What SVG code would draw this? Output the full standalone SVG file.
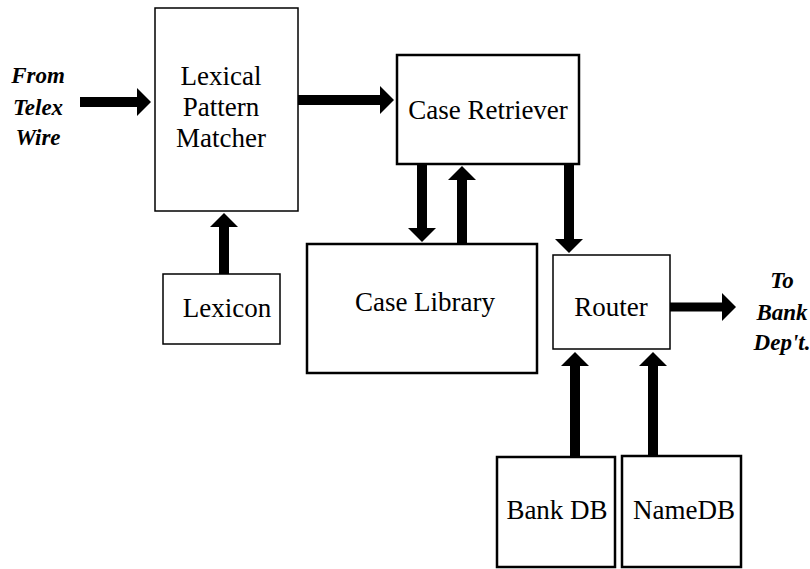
<svg xmlns="http://www.w3.org/2000/svg" width="810" height="569" viewBox="0 0 810 569">
  <style>
    .box { fill: #ffffff; stroke: #000000; }
    .thin { stroke-width: 1.5; }
    .thick { stroke-width: 2.5; }
    .label { font-family: "Liberation Serif", "Times New Roman", serif; font-size: 27px; fill: #000000; text-anchor: middle; }
    .note { font-family: "Liberation Serif", "Times New Roman", serif; font-size: 23px; font-style: italic; font-weight: bold; fill: #000000; text-anchor: middle; }
    .flow { stroke: #000000; stroke-width: 10; fill: none; marker-end: url(#head); }
  </style>
  <defs>
    <marker id="head" markerUnits="userSpaceOnUse" markerWidth="14" markerHeight="28" refX="0" refY="14" orient="auto">
      <path d="M0,0 L14,14 L0,28 Z" fill="#000000"/>
    </marker>
  </defs>

  <rect x="0" y="0" width="810" height="569" fill="#ffffff"/>

  <!-- incoming / outgoing annotations -->
  <g id="source-label">
    <text class="note" x="38" y="83">From</text>
    <text class="note" x="38" y="115">Telex</text>
    <text class="note" x="38" y="145">Wire</text>
  </g>
  <g id="sink-label">
    <text class="note" x="782" y="288">To</text>
    <text class="note" x="782" y="320">Bank</text>
    <text class="note" x="782" y="350">Dep't.</text>
  </g>

  <g id="lexical-pattern-matcher">
    <rect class="box thin" x="155" y="8" width="143" height="203"/>
    <text class="label" x="221" y="85">Lexical</text>
    <text class="label" x="221" y="116">Pattern</text>
    <text class="label" x="221" y="147">Matcher</text>
  </g>

  <g id="lexicon">
    <rect class="box thin" x="163" y="274" width="117" height="70"/>
    <text class="label" x="227" y="317">Lexicon</text>
  </g>

  <g id="case-retriever">
    <rect class="box thick" x="397" y="55" width="182" height="109"/>
    <text class="label" x="488" y="119">Case Retriever</text>
  </g>

  <g id="case-library">
    <rect class="box thick" x="307" y="244" width="230" height="129"/>
    <text class="label" x="425" y="311">Case Library</text>
  </g>

  <g id="router">
    <rect class="box thin" x="553" y="255" width="117" height="94"/>
    <text class="label" x="611" y="316">Router</text>
  </g>

  <g id="bank-db">
    <rect class="box thick" x="497" y="457" width="118" height="110"/>
    <text class="label" x="557" y="519">Bank DB</text>
  </g>

  <g id="name-db">
    <rect class="box thick" x="622" y="456" width="119" height="111"/>
    <text class="label" x="684" y="519">NameDB</text>
  </g>

  <g id="connectors">
    <line class="flow" x1="80" y1="102" x2="137" y2="102"/>
    <line class="flow" x1="298" y1="100" x2="380" y2="100"/>
    <line class="flow" x1="224" y1="274" x2="224" y2="227"/>
    <line class="flow" x1="422" y1="164" x2="422" y2="228"/>
    <line class="flow" x1="462" y1="244" x2="462" y2="180"/>
    <line class="flow" x1="569" y1="165" x2="569" y2="239"/>
    <line class="flow" x1="670" y1="307" x2="722" y2="307" style="stroke-width:9"/>
    <line class="flow" x1="575" y1="457" x2="575" y2="366"/>
    <line class="flow" x1="653" y1="456" x2="653" y2="366"/>
  </g>
</svg>
